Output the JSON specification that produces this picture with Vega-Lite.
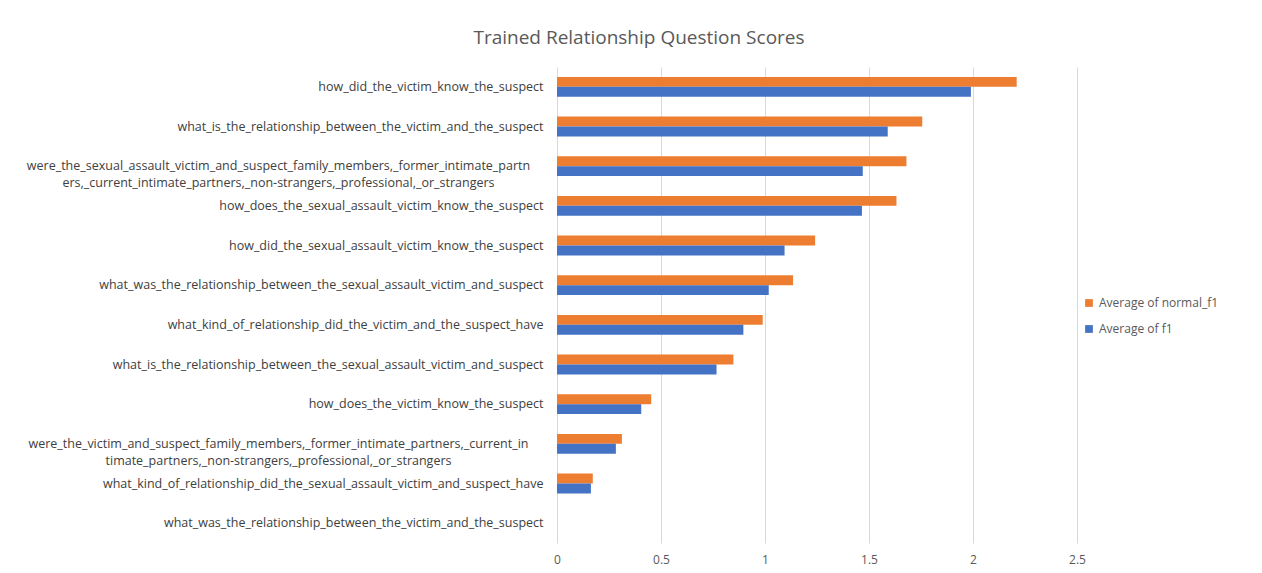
{
  "$schema": "https://vega.github.io/schema/vega-lite/v6.json",
  "width": 520,
  "height": 476,
  "autosize": {"type": "none"},
  "padding": {"left": 557, "top": 67, "right": 185, "bottom": 30},
  "background": "white",
  "title": {
    "text": "Trained Relationship Question Scores",
    "font": "Open Sans",
    "fontSize": 19,
    "fontWeight": "normal",
    "color": "#595959",
    "anchor": "middle",
    "frame": "group",
    "dx": -178,
    "offset": 19
  },
  "data": {
    "values": [
      {"question": "how_did_the_victim_know_the_suspect", "series": "Average of normal_f1", "score": 2.21},
      {"question": "how_did_the_victim_know_the_suspect", "series": "Average of f1", "score": 1.99},
      {"question": "what_is_the_relationship_between_the_victim_and_the_suspect", "series": "Average of normal_f1", "score": 1.756},
      {"question": "what_is_the_relationship_between_the_victim_and_the_suspect", "series": "Average of f1", "score": 1.59},
      {"question": "were_the_sexual_assault_victim_and_suspect_family_members,_former_intimate_partn\ners,_current_intimate_partners,_non-strangers,_professional,_or_strangers", "series": "Average of normal_f1", "score": 1.68},
      {"question": "were_the_sexual_assault_victim_and_suspect_family_members,_former_intimate_partn\ners,_current_intimate_partners,_non-strangers,_professional,_or_strangers", "series": "Average of f1", "score": 1.47},
      {"question": "how_does_the_sexual_assault_victim_know_the_suspect", "series": "Average of normal_f1", "score": 1.632},
      {"question": "how_does_the_sexual_assault_victim_know_the_suspect", "series": "Average of f1", "score": 1.466},
      {"question": "how_did_the_sexual_assault_victim_know_the_suspect", "series": "Average of normal_f1", "score": 1.241},
      {"question": "how_did_the_sexual_assault_victim_know_the_suspect", "series": "Average of f1", "score": 1.094},
      {"question": "what_was_the_relationship_between_the_sexual_assault_victim_and_suspect", "series": "Average of normal_f1", "score": 1.135},
      {"question": "what_was_the_relationship_between_the_sexual_assault_victim_and_suspect", "series": "Average of f1", "score": 1.018},
      {"question": "what_kind_of_relationship_did_the_victim_and_the_suspect_have", "series": "Average of normal_f1", "score": 0.989},
      {"question": "what_kind_of_relationship_did_the_victim_and_the_suspect_have", "series": "Average of f1", "score": 0.896},
      {"question": "what_is_the_relationship_between_the_sexual_assault_victim_and_suspect", "series": "Average of normal_f1", "score": 0.848},
      {"question": "what_is_the_relationship_between_the_sexual_assault_victim_and_suspect", "series": "Average of f1", "score": 0.767},
      {"question": "how_does_the_victim_know_the_suspect", "series": "Average of normal_f1", "score": 0.453},
      {"question": "how_does_the_victim_know_the_suspect", "series": "Average of f1", "score": 0.405},
      {"question": "were_the_victim_and_suspect_family_members,_former_intimate_partners,_current_in\ntimate_partners,_non-strangers,_professional,_or_strangers", "series": "Average of normal_f1", "score": 0.312},
      {"question": "were_the_victim_and_suspect_family_members,_former_intimate_partners,_current_in\ntimate_partners,_non-strangers,_professional,_or_strangers", "series": "Average of f1", "score": 0.283},
      {"question": "what_kind_of_relationship_did_the_sexual_assault_victim_and_suspect_have", "series": "Average of normal_f1", "score": 0.172},
      {"question": "what_kind_of_relationship_did_the_sexual_assault_victim_and_suspect_have", "series": "Average of f1", "score": 0.163},
      {"question": "what_was_the_relationship_between_the_victim_and_the_suspect", "series": "Average of normal_f1", "score": 0},
      {"question": "what_was_the_relationship_between_the_victim_and_the_suspect", "series": "Average of f1", "score": 0}
    ]
  },
  "mark": {"type": "bar"},
  "encoding": {
    "y": {
      "field": "question",
      "type": "nominal",
      "sort": null,
      "scale": {"paddingInner": 0.5, "paddingOuter": 0.25},
      "axis": {
        "title": null,
        "domain": false,
        "ticks": false,
        "labelLimit": 0,
        "labelFont": "Open Sans",
        "labelFontSize": 12.5,
        "labelColor": "#404040",
        "labelLineHeight": 17,
        "labelExpr": "split(datum.label, '\\n')",
        "labelAlign": {"condition": {"test": "indexof(datum.value, '\\n') >= 0", "value": "center"}, "value": "right"},
        "labelPadding": {"condition": {"test": "indexof(datum.value, '\\n') >= 0", "value": 279}, "value": 14}
      }
    },
    "yOffset": {
      "field": "series",
      "type": "nominal",
      "sort": ["Average of normal_f1", "Average of f1"]
    },
    "x": {
      "field": "score",
      "type": "quantitative",
      "scale": {"domain": [0, 2.5], "nice": false},
      "axis": {
        "title": null,
        "values": [0, 0.5, 1, 1.5, 2, 2.5],
        "format": "~g",
        "domain": false,
        "ticks": false,
        "grid": true,
        "gridColor": "#d9d9d9",
        "gridWidth": 1,
        "labelFont": "Open Sans",
        "labelFontSize": 12,
        "labelColor": "#595959",
        "labelPadding": 11,
        "labelFlush": false
      }
    },
    "color": {
      "field": "series",
      "type": "nominal",
      "sort": ["Average of normal_f1", "Average of f1"],
      "scale": {"range": ["#ED7D31", "#4472C4"]},
      "legend": {
        "title": null,
        "orient": "none",
        "legendX": 526,
        "legendY": 230,
        "symbolType": "square",
        "symbolSize": 60,
        "symbolStrokeWidth": 0,
        "symbolOpacity": 1,
        "labelFont": "Open Sans",
        "labelFontSize": 12,
        "labelColor": "#595959",
        "rowPadding": 14,
        "labelOffset": 4
      }
    }
  },
  "config": {
    "view": {"stroke": null}
  }
}
